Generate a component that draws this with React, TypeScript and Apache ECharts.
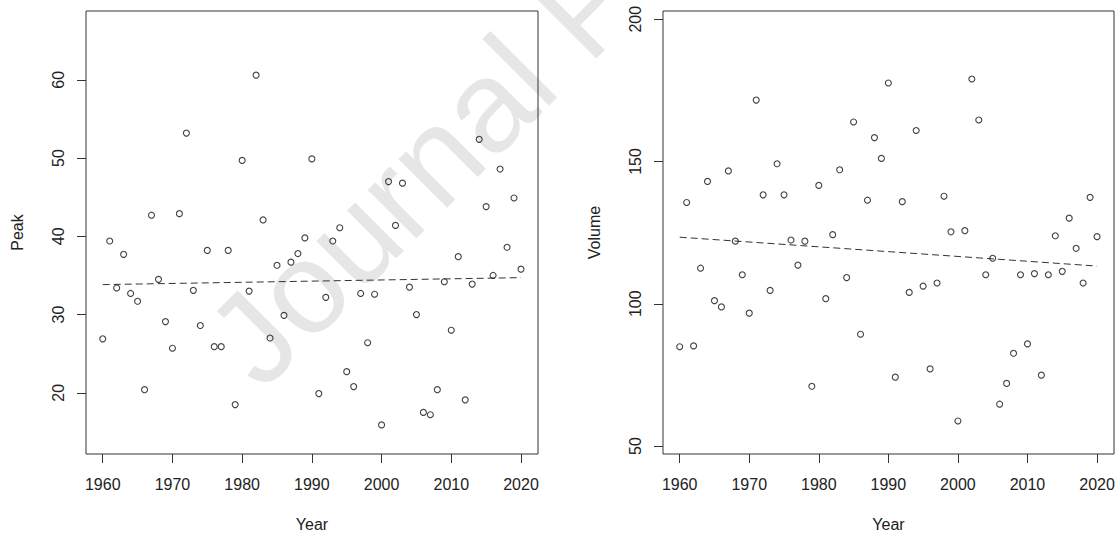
import React, { useEffect, useRef } from "react";
import * as echarts from "echarts";

const years = [
  1960, 1961, 1962, 1963, 1964, 1965, 1966, 1967, 1968, 1969,
  1970, 1971, 1972, 1973, 1974, 1975, 1976, 1977, 1978, 1979,
  1980, 1981, 1982, 1983, 1984, 1985, 1986, 1987, 1988, 1989,
  1990, 1991, 1992, 1993, 1994, 1995, 1996, 1997, 1998, 1999,
  2000, 2001, 2002, 2003, 2004, 2005, 2006, 2007, 2008, 2009,
  2010, 2011, 2012, 2013, 2014, 2015, 2016, 2017, 2018, 2019, 2020,
];

const peak = [
  26.9, 39.4, 33.4, 37.7, 32.7, 31.7, 20.4, 42.7, 34.5, 29.1,
  25.7, 42.9, 53.2, 33.1, 28.6, 38.2, 25.9, 25.9, 38.2, 18.5,
  49.7, 33.0, 60.6, 42.1, 27.0, 36.3, 29.9, 36.7, 37.8, 39.8,
  49.9, 19.9, 32.2, 39.4, 41.1, 22.7, 20.8, 32.7, 26.4, 32.6,
  15.9, 47.0, 41.4, 46.8, 33.5, 30.0, 17.5, 17.2, 20.4, 34.2,
  28.0, 37.4, 19.1, 33.9, 52.4, 43.8, 35.0, 48.6, 38.6, 44.9, 35.8,
];

const volume = [
  84.9, 135.6, 85.2, 112.5, 143.0, 101.1, 98.9, 146.7, 122.0, 110.2,
  96.7, 171.6, 138.3, 104.7, 149.2, 138.3, 122.4, 113.6, 122.0, 71.0,
  141.6, 101.8, 124.3, 147.1, 109.2, 163.9, 89.3, 136.4, 158.4, 151.1,
  177.6, 74.2, 135.9, 104.0, 160.9, 106.2, 77.1, 107.3, 137.8, 125.3,
  58.8, 125.7, 179.0, 164.6, 110.2, 116.0, 64.7, 72.0, 82.6, 110.2,
  85.9, 110.6, 74.9, 110.2, 123.9, 111.4, 130.1, 119.5, 107.3, 137.4, 123.6,
];

const trendYears = [1960, 2020];
const peakTrend = [33.83, 34.72];
const volumeTrend = [123.4, 113.25];

const xTicks = [1960, 1970, 1980, 1990, 2000, 2010, 2020];
const peakTicks = [20, 30, 40, 50, 60];
const volumeTicks = [50, 100, 150, 200];

const FONT = "'Liberation Sans', Arial, sans-serif";
const INK = "#333333";
const TEXT = "#222222";

function xAxis(gridIndex: number) {
  return {
    type: "value",
    gridIndex,
    min: 1957.6,
    max: 2022.44,
    name: "Year",
    nameLocation: "middle",
    nameGap: 62,
    nameTextStyle: { fontFamily: FONT, fontSize: 16, color: TEXT },
    axisLine: { show: false },
    axisTick: {
      show: true,
      inside: false,
      length: 9,
      customValues: xTicks,
      lineStyle: { color: INK, width: 1 },
    },
    axisLabel: {
      show: true,
      customValues: xTicks,
      margin: 22,
      fontFamily: FONT,
      fontSize: 16,
      color: TEXT,
      formatter: (v: number) => String(v),
    },
    splitLine: { show: false },
  };
}

function yAxis(gridIndex: number, name: string, min: number, max: number, ticks: number[]) {
  return {
    type: "value",
    gridIndex,
    min,
    max,
    name,
    nameLocation: "middle",
    nameGap: 61,
    nameRotate: 90,
    nameTextStyle: { fontFamily: FONT, fontSize: 16, color: TEXT },
    axisLine: { show: false },
    axisTick: {
      show: true,
      inside: false,
      length: 9,
      customValues: ticks,
      lineStyle: { color: INK, width: 1 },
    },
    axisLabel: {
      show: true,
      customValues: ticks,
      rotate: 90,
      margin: 20,
      fontFamily: FONT,
      fontSize: 16,
      color: TEXT,
      formatter: (v: number) => String(v),
    },
    splitLine: { show: false },
  };
}

function scatter(idx: number, values: number[]) {
  return {
    type: "scatter",
    xAxisIndex: idx,
    yAxisIndex: idx,
    symbol: "circle",
    symbolSize: 6,
    itemStyle: { color: "rgba(0,0,0,0)", borderColor: "#111111", borderWidth: 1.1 },
    data: years.map((y, i) => [y, values[i]]),
    z: 5,
  };
}

function trend(idx: number, values: number[]) {
  return {
    type: "line",
    xAxisIndex: idx,
    yAxisIndex: idx,
    symbol: "none",
    lineStyle: { color: INK, width: 1, type: [7, 4] },
    data: trendYears.map((y, i) => [y, values[i]]),
    z: 4,
  };
}

export default function App() {
  const ref = useRef<HTMLDivElement>(null);
  useEffect(() => {
    if (!ref.current) return;
    const chart = echarts.init(ref.current, undefined, { renderer: "svg" });
    chart.setOption({
      animation: false,
      backgroundColor: "#ffffff",
      grid: [
        { left: 86, top: 11, width: 452, height: 444, show: true, borderColor: INK, borderWidth: 1, backgroundColor: "transparent", containLabel: false },
        { left: 663, top: 11, width: 451, height: 444, show: true, borderColor: INK, borderWidth: 1, backgroundColor: "transparent", containLabel: false },
      ],
      xAxis: [xAxis(0), xAxis(1)],
      yAxis: [yAxis(0, "Peak", 12.18, 68.8, peakTicks), yAxis(1, "Volume", 47.2, 202.9, volumeTicks)],
      graphic: [
        {
          type: "text",
          x: 276,
          y: 407,
          rotation: (45 * Math.PI) / 180,
          z: -10,
          silent: true,
          style: {
            text: "Journal Pre-proof",
            fontFamily: FONT,
            fontSize: 130,
            fill: "#e6e6e6",
            textAlign: "left",
            textVerticalAlign: "bottom",
          },
        },
      ],
      series: [scatter(0, peak), trend(0, peakTrend), scatter(1, volume), trend(1, volumeTrend)],
    });
    return () => chart.dispose();
  }, []);
  return (
    <div
      ref={ref}
      style={{ position: "absolute", left: 0, top: 0, width: 1120, height: 537 }}
    />
  );
}
